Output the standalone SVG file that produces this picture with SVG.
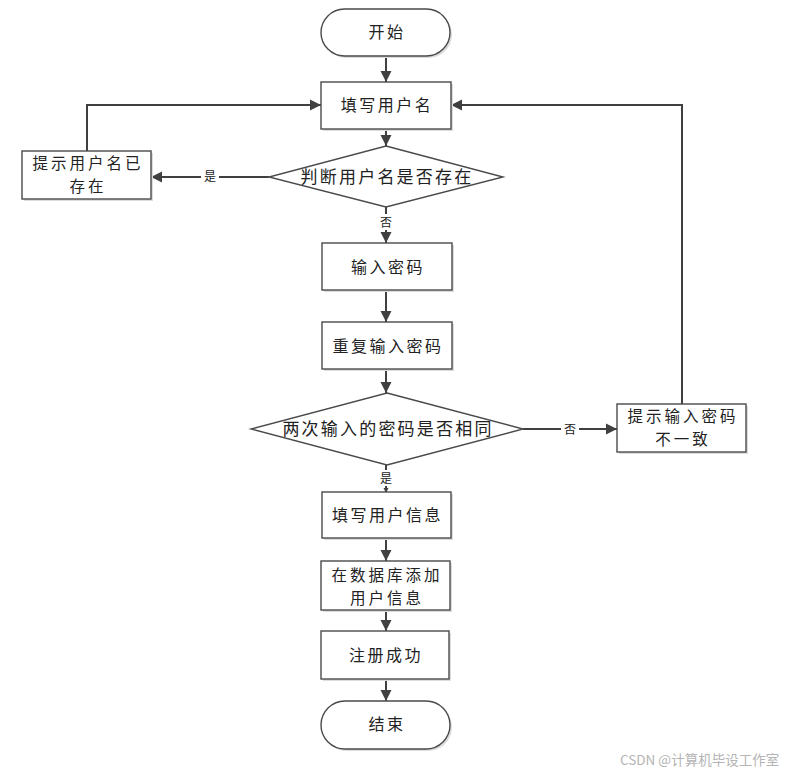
<svg xmlns="http://www.w3.org/2000/svg" width="798" height="773" viewBox="0 0 798 773">
<defs>
<marker id="ah" markerUnits="userSpaceOnUse" markerWidth="12" markerHeight="12" refX="11" refY="6" orient="auto">
<path d="M0,0.5 L11,6 L0,11.5 Z" fill="#404040"/>
</marker>
<marker id="ahs" markerUnits="userSpaceOnUse" markerWidth="6" markerHeight="6" refX="5" refY="3" orient="auto">
<path d="M0,0.5 L5,3 L0,5.5 Z" fill="#404040"/>
</marker>
</defs>
<style>
.box{fill:#fff;stroke:#4a4a4a;stroke-width:1.4}
.sh{fill:#dcdcdc;stroke:none}
.t{font-family:"Noto Sans CJK SC","Noto Sans",sans-serif;font-size:16px;fill:#222;text-anchor:middle;dominant-baseline:central;letter-spacing:2.5px}
.t2{font-family:"Noto Sans CJK SC","Noto Sans",sans-serif;font-size:15.5px;fill:#222;text-anchor:middle;dominant-baseline:central;letter-spacing:3px}
.td{font-family:"Noto Sans CJK SC","Noto Sans",sans-serif;font-size:17px;fill:#222;text-anchor:middle;dominant-baseline:central;letter-spacing:2.2px}
.c{fill:none;stroke:#404040;stroke-width:2}
.lbl{font-family:"Noto Sans CJK SC","Noto Sans",sans-serif;font-size:12px;fill:#222;text-anchor:middle;dominant-baseline:central}
.wm{font-family:"Noto Sans CJK SC","Noto Sans",sans-serif;font-size:13.5px;fill:#b4b4b4}
</style>
<rect width="798" height="773" fill="#fff"/>

<g id="connectors">
<path class="c" d="M386,56 V82" marker-end="url(#ah)"/>
<path class="c" d="M386,129 V146" marker-end="url(#ah)"/>
<path class="c" d="M269,177 H151" marker-end="url(#ah)"/>
<path class="c" d="M87,151 V105 H321" marker-end="url(#ah)"/>
<path class="c" d="M386,207 V243" marker-end="url(#ah)"/>
<path class="c" d="M386,290 V322" marker-end="url(#ah)"/>
<path class="c" d="M386,369 V393" marker-end="url(#ah)"/>
<path class="c" d="M523,429 H617" marker-end="url(#ah)"/>
<path class="c" d="M682,404 V105 H451" marker-end="url(#ah)"/>
<path class="c" d="M386,465 V493" stroke-width="1.2" marker-end="url(#ahs)"/>
<path class="c" d="M386,538 V561" marker-end="url(#ah)"/>
<path class="c" d="M386,610 V631" marker-end="url(#ah)"/>
<path class="c" d="M386,679 V701" marker-end="url(#ah)"/>
<rect x="201" y="169" width="18" height="16" fill="#fff"/>
<text class="lbl" x="210" y="175">是</text>
<rect x="377" y="214" width="18" height="16" fill="#fff"/>
<text class="lbl" x="386" y="221">否</text>
<rect x="561" y="421" width="18" height="16" fill="#fff"/>
<text class="lbl" x="570" y="428">否</text>
<rect x="377" y="470" width="18" height="16" fill="#fff"/>
<text class="lbl" x="386" y="477">是</text>
</g>

<g id="start">
<rect class="sh" x="323" y="11" width="129" height="47" rx="23.5"/>
<rect class="box" x="321" y="9" width="129" height="47" rx="23.5"/>
<text class="t" x="387" y="31">开始</text>
</g>
<g id="fill-username">
<rect class="sh" x="323" y="84" width="130" height="47"/>
<rect class="box" x="321" y="82" width="130" height="47"/>
<text class="t" x="387" y="104">填写用户名</text>
</g>
<g id="check-username">
<polygon class="box" points="386,146 503,177 386,207 269,177"/>
<text class="td" x="387" y="175">判断用户名是否存在</text>
</g>
<g id="username-exists">
<rect class="sh" x="24" y="153" width="129" height="48"/>
<rect class="box" x="22" y="151" width="129" height="48"/>
<text class="t2" x="88" y="161.5">提示用户名已</text>
<text class="t2" x="88" y="184.5">存在</text>
</g>
<g id="enter-password">
<rect class="sh" x="324" y="245" width="130" height="47"/>
<rect class="box" x="322" y="243" width="130" height="47"/>
<text class="t" x="388" y="265.5">输入密码</text>
</g>
<g id="repeat-password">
<rect class="sh" x="324" y="324" width="130" height="47"/>
<rect class="box" x="322" y="322" width="130" height="47"/>
<text class="t" x="388" y="344.5">重复输入密码</text>
</g>
<g id="check-password">
<polygon class="box" points="387,393 523,429 387,465 251,429"/>
<text class="td" x="388" y="427">两次输入的密码是否相同</text>
</g>
<g id="password-mismatch">
<rect class="sh" x="619" y="406" width="129" height="48"/>
<rect class="box" x="617" y="404" width="129" height="48"/>
<text class="t2" x="683" y="414.5">提示输入密码</text>
<text class="t2" x="683" y="437.5">不一致</text>
</g>
<g id="fill-userinfo">
<rect class="sh" x="324" y="494" width="129" height="46"/>
<rect class="box" x="322" y="492" width="129" height="46"/>
<text class="t" x="387.5" y="513.5">填写用户信息</text>
</g>
<g id="add-db">
<rect class="sh" x="323" y="563" width="129" height="49"/>
<rect class="box" x="321" y="561" width="129" height="49"/>
<text class="t2" x="387" y="574">在数据库添加</text>
<text class="t2" x="387" y="597">用户信息</text>
</g>
<g id="register-success">
<rect class="sh" x="323" y="633" width="128" height="48"/>
<rect class="box" x="321" y="631" width="128" height="48"/>
<text class="t" x="386" y="653.5">注册成功</text>
</g>
<g id="end">
<rect class="sh" x="323" y="703" width="129" height="48" rx="24"/>
<rect class="box" x="321" y="701" width="129" height="48" rx="24"/>
<text class="t" x="387" y="723">结束</text>
</g>
<text class="wm" x="620" y="765">CSDN @计算机毕设工作室</text>
</svg>
